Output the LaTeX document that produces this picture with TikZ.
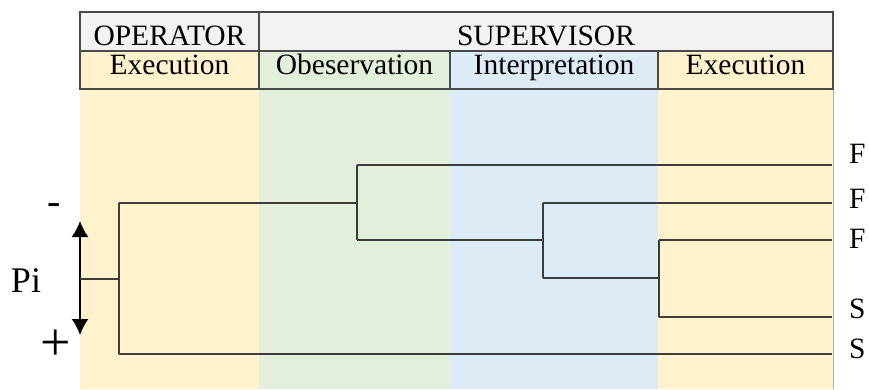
\documentclass[tikz,border=0pt]{standalone}
\usepackage{fontspec}
\setmainfont{Liberation Serif}
\usetikzlibrary{arrows.meta}

\definecolor{execfill}{HTML}{FFF2CC}
\definecolor{obsfill}{HTML}{E2EFDA}
\definecolor{intfill}{HTML}{DDEBF7}
\definecolor{headfill}{HTML}{F2F2F2}
\definecolor{gridline}{HTML}{4A4A4A}
\definecolor{treeline}{HTML}{3C3C3C}

\begin{document}
\begin{tikzpicture}[x=1pt, y=-1pt,
    font=\fontsize{29.5}{34}\selectfont,
    cell/.style={anchor=base, inner sep=0pt},
    leaf/.style={anchor=base west, inner sep=0pt},
    branch/.style={draw=treeline, line width=1.4pt},
    grid/.style={draw=gridline, line width=1.4pt}]

    \useasboundingbox (0,0) rectangle (869,389);

    \foreach \xa/\xb/\col in {80/259/execfill, 259/450/obsfill, 450/658/intfill, 658/833/execfill} {
        \fill[\col] (\xa,51) rectangle (\xb,389);
    }
    \fill[headfill] (80,12) rectangle (833,51);
    \draw[gridline!45, line width=0.8pt] (833,89) -- (833,389);

    \draw[grid] (80,12) rectangle (833,89);
    \draw[grid] (80,51) -- (833,51);
    \draw[grid] (259,12) -- (259,89);
    \draw[grid] (450,51) -- (450,89);
    \draw[grid] (658,51) -- (658,89);

    \node[cell] (operator) at (169.5,45.5) {OPERATOR};
    \node[cell] (supervisor) at (546,45.5) {SUPERVISOR};
    \node[cell] (opexec) at (169.5,74) {Execution};
    \node[cell] (observe) at (354.5,74) {Obeservation};
    \node[cell] (interpret) at (554,74) {Interpretation};
    \node[cell] (supexec) at (745.5,74) {Execution};

    \coordinate (ptop) at (80,221);
    \coordinate (pbot) at (80,335);
    \coordinate (pmid) at (80,279);
    \draw[black, line width=1.6pt, {Latex[length=16pt,width=17pt]}-{Latex[length=16pt,width=17pt]}] (ptop) -- (pbot);

    \node (pi) at (26,281) {\fontsize{36}{40}\selectfont Pi};
    \node (minus) at (54,209) {\fontsize{40}{44}\selectfont -};
    \node (plus) at (56,345) {\fontsize{54}{58}\selectfont +};

    \coordinate (root) at (119,279);
    \coordinate (ra) at (119,203);
    \coordinate (rb) at (119,354);
    \coordinate (na) at (357,203);
    \coordinate (nat) at (357,165);
    \coordinate (nab) at (357,240);
    \coordinate (nb) at (543,240);
    \coordinate (nbt) at (543,203);
    \coordinate (nbb) at (543,278);
    \coordinate (nc) at (659,278);
    \coordinate (nct) at (659,240);
    \coordinate (ncb) at (659,317);

    \coordinate (e1) at (832,165);
    \coordinate (e2) at (832,203);
    \coordinate (e3) at (832,240);
    \coordinate (e4) at (832,317);
    \coordinate (e5) at (832,354);

    \node[leaf] (f1) at (849,163) {F};
    \node[leaf] (f2) at (849,208) {F};
    \node[leaf] (f3) at (849,248) {F};
    \node[leaf] (s1) at (849,318) {S};
    \node[leaf] (s2) at (849,358) {S};

    \draw[branch] (pmid) -- (root);
    \draw[branch] (ra) -- (rb);
    \draw[branch] (ra) -- (na);
    \draw[branch] (rb) -- (e5);
    \draw[branch] (nat) -- (nab);
    \draw[branch] (nat) -- (e1);
    \draw[branch] (nab) -- (nb);
    \draw[branch] (nbt) -- (nbb);
    \draw[branch] (nbt) -- (e2);
    \draw[branch] (nbb) -- (nc);
    \draw[branch] (nct) -- (ncb);
    \draw[branch] (nct) -- (e3);
    \draw[branch] (ncb) -- (e4);

\end{tikzpicture}
\end{document}
